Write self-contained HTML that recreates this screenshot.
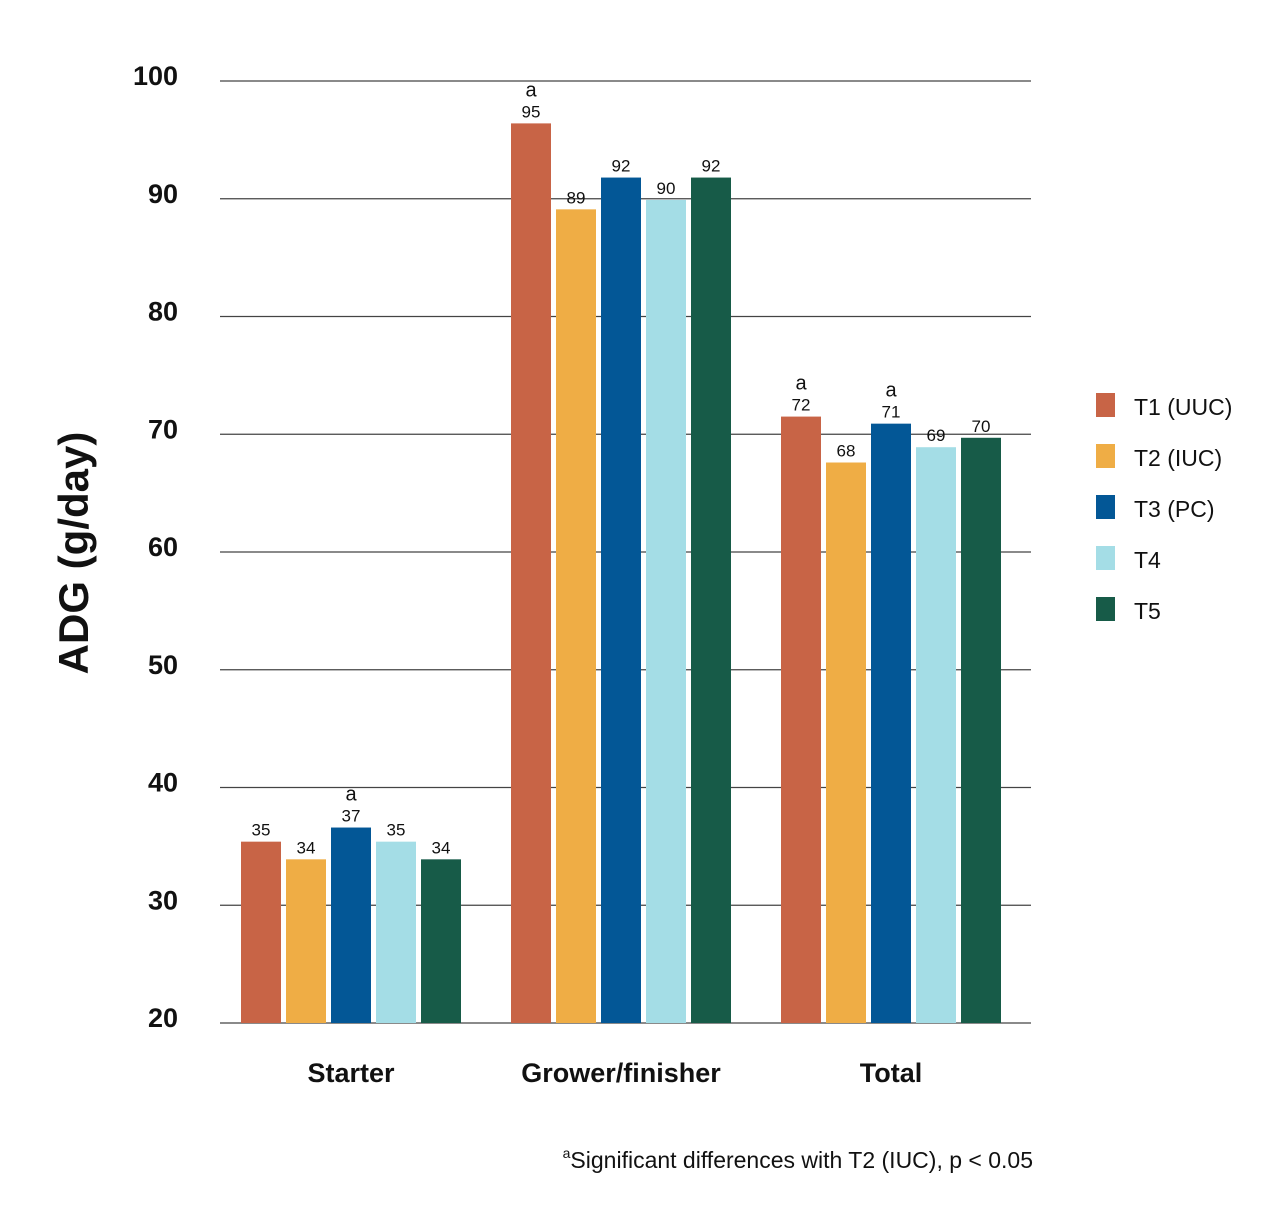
<!DOCTYPE html>
<html><head><meta charset="utf-8"><style>
body{margin:0;background:#fff;}
svg{display:block;font-family:"Liberation Sans",sans-serif;}
</style></head><body>
<svg id="chart" width="1280" height="1229" viewBox="0 0 1280 1229">
<g id="grid"></g>
<g id="ticks"></g>
<g id="bars"></g>
<g id="cats"></g>
<g id="legend"></g>
<text transform="translate(88,553) rotate(-90)" text-anchor="middle" font-size="42" font-weight="bold" fill="#111">ADG (g/day)</text>
<text x="1033" y="1168" text-anchor="end" font-size="23" fill="#111"><tspan font-size="14" dy="-10">a</tspan><tspan dy="10">Significant differences with T2 (IUC), p &lt; 0.05</tspan></text>
</svg>
<script>
const categories=["Starter","Grower/finisher","Total"];
const seriesNames=["T1 (UUC)","T2 (IUC)","T3 (PC)","T4","T5"];
const colors=["#c86446","#efad45","#035796","#a4dde6","#175b48"];
const values=[[35.4,33.9,36.6,35.4,33.9],[96.4,89.1,91.8,89.9,91.8],[71.5,67.6,70.9,68.9,69.7]];
const valueLabels=[["35","34","37","35","34"],["95","89","92","90","92"],["72","68","71","69","70"]];
const sigMarks=[[false,false,true,false,false],[true,false,false,false,false],[true,false,true,false,false]];
const yTicks=[20,30,40,50,60,70,80,90,100];
const NS="http://www.w3.org/2000/svg";
const y0=1023,y1=81,vmin=20,vmax=100;
function y(v){return y0-(v-vmin)/(vmax-vmin)*(y0-y1);}
function groupX(i){return 241+i*270;}
function barX(i,j){return groupX(i)+j*45;}
const barW=40;
function mk(tag,attrs,parent){const e=document.createElementNS(NS,tag);for(const k in attrs)e.setAttribute(k,attrs[k]);parent.appendChild(e);return e;}
const grid=document.getElementById('grid'),ticks=document.getElementById('ticks'),bars=document.getElementById('bars'),cats=document.getElementById('cats'),legend=document.getElementById('legend');
yTicks.forEach(t=>{
 const l=mk('line',{x1:220,x2:1031,y1:y(t),y2:y(t),stroke:"#444","stroke-width":1.2},grid);
 
 
 const tx=mk('text',{x:178,y:y(t)+4,"text-anchor":"end","font-size":27,"font-weight":"bold",fill:"#111"},ticks);
 tx.textContent=t;
 
 
});
categories.forEach((c,i)=>{
 values[i].forEach((v,j)=>{
  const r=mk('rect',{x:barX(i,j),y:y(v),width:barW,height:y0-y(v),fill:colors[j]},bars);
  
  
  const t=mk('text',{x:barX(i,j)+barW/2,y:y(v)-6,"text-anchor":"middle","font-size":17,fill:"#111"},bars);
  t.textContent=valueLabels[i][j];
  
  
  if(sigMarks[i][j]){
   const a=mk('text',{x:barX(i,j)+barW/2,y:y(v)-27,"text-anchor":"middle","font-size":20,fill:"#111"},bars);
   a.textContent="a";
   
   
  }
 });
 const ct=mk('text',{x:groupX(i)+110,y:1082,"text-anchor":"middle","font-size":27,"font-weight":"bold",fill:"#111"},cats);
 ct.textContent=c;
 
 
});
seriesNames.forEach((s,j)=>{
 const g=mk('g',{},legend);
 
 
 mk('rect',{x:1096,y:393+j*51,width:19,height:24,fill:colors[j]},g);
 const t=mk('text',{x:1134,y:415+j*51,"font-size":23,fill:"#111"},g);
 t.textContent=s;
});
</script>
</body></html>
